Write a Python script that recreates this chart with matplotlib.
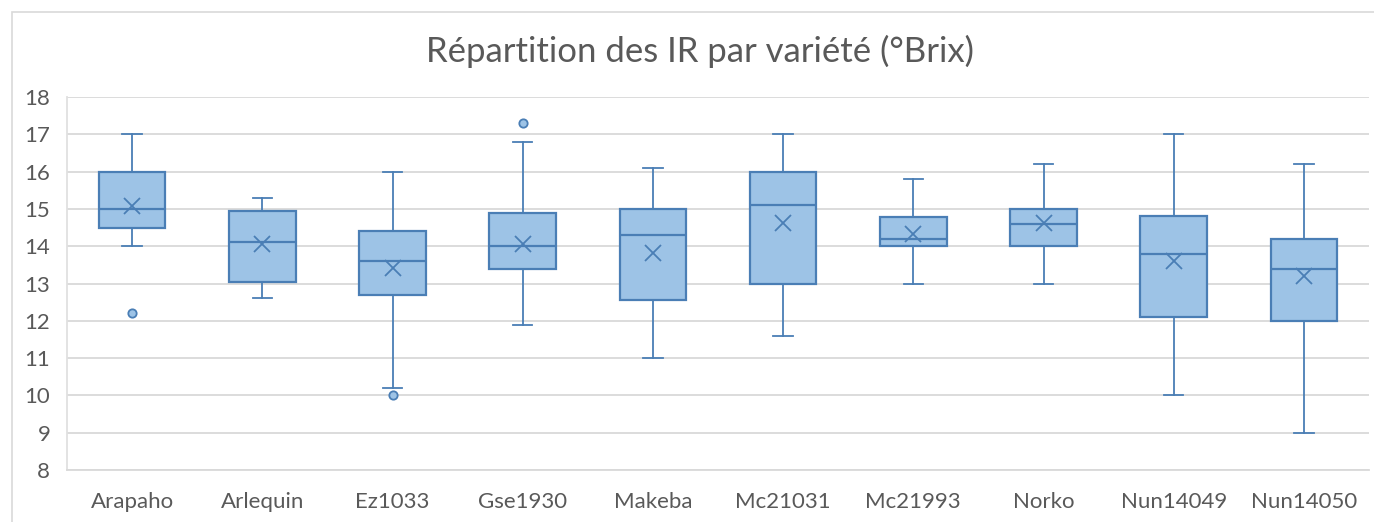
import matplotlib
matplotlib.use("Agg")
import matplotlib.pyplot as plt
from matplotlib.patches import Rectangle

varieties = ["Arapaho", "Arlequin", "Ez1033", "Gse1930", "Makeba",
             "Mc21031", "Mc21993", "Norko", "Nun14049", "Nun14050"]
whisker_low = [14.0, 12.6, 10.2, 11.9, 11.0, 11.6, 13.0, 13.0, 10.0, 9.0]
q1 = [14.5, 13.05, 12.7, 13.4, 12.55, 13.0, 14.0, 14.0, 12.1, 12.0]
median = [15.0, 14.1, 13.6, 14.0, 14.3, 15.1, 14.2, 14.6, 13.8, 13.4]
q3 = [16.0, 14.95, 14.4, 14.9, 15.0, 16.0, 14.78, 15.0, 14.8, 14.2]
whisker_high = [17.0, 15.3, 16.0, 16.8, 16.1, 17.0, 15.8, 16.2, 17.0, 16.2]
mean = [15.08, 14.06, 13.41, 14.06, 13.81, 14.62, 14.32, 14.61, 13.59, 13.19]
outliers = [[12.2], [], [10.0], [17.3], [], [], [], [], [], []]

edge = "#4A7EB5"
fill = "#9DC3E6"
grey_txt = "#595959"
plt.rcParams['font.family'] = ['Lato', 'DejaVu Sans']

stats = []
for i, name in enumerate(varieties):
    stats.append(dict(label=name, whislo=whisker_low[i], q1=q1[i], med=median[i],
                      q3=q3[i], whishi=whisker_high[i], mean=mean[i], fliers=outliers[i]))

fig = plt.figure(figsize=(13.74, 5.22), dpi=100)
ax = fig.add_axes([67/1374, 52/522, 1302/1374, 373/522])

ax.bxp(stats, widths=0.51, showmeans=True, patch_artist=True,
       boxprops=dict(facecolor=fill, edgecolor=edge, linewidth=1.6),
       medianprops=dict(color=edge, linewidth=1.6),
       whiskerprops=dict(color=edge, linewidth=1.3),
       capprops=dict(color=edge, linewidth=1.3),
       capwidths=0.15,
       meanprops=dict(marker="x", markeredgecolor=edge, markersize=12, markeredgewidth=1.3),
       flierprops=dict(marker="o", markerfacecolor=fill, markeredgecolor=edge,
                       markersize=6, markeredgewidth=1.3))

ax.set_ylim(8, 18)
ax.set_yticks(range(8, 19))
ax.set_xlim(0.5, 10.5)
ax.yaxis.grid(True, color="#D9D9D9", linewidth=1.3)
ax.set_axisbelow(True)
for s in ["top", "right"]:
    ax.spines[s].set_visible(False)
ax.spines["left"].set_color("#E0E0E0")
ax.spines["bottom"].set_color("#D9D9D9")
ax.spines["left"].set_linewidth(1.3)
ax.spines["bottom"].set_linewidth(1.3)
ax.tick_params(axis="y", length=0, pad=12, labelsize=16, labelcolor=grey_txt)
ax.tick_params(axis="x", length=0, pad=16, labelsize=16, labelcolor=grey_txt)

fig.text(700/1374, 1 - 51/522, "Répartition des IR par variété (°Brix)", ha="center", va="center",
         fontsize=25, color=grey_txt)

fig.patches.append(Rectangle((12/1374, -0.5), 2, 1.5 - 12/522, transform=fig.transFigure,
                             fill=False, edgecolor="#D9D9D9", linewidth=1.2))

fig.savefig("out.png", dpi=100)
